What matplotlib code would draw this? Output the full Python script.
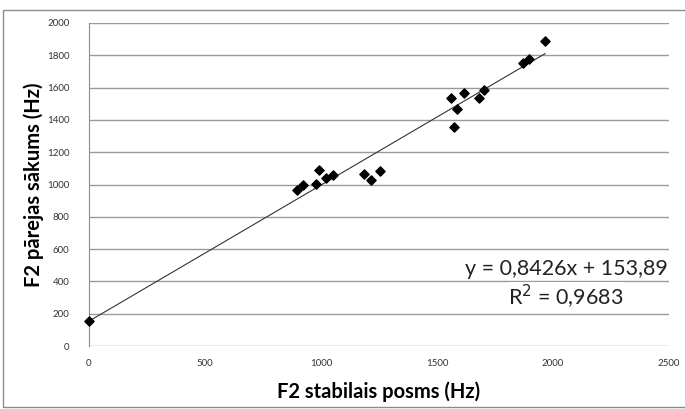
import numpy as np
import matplotlib.pyplot as plt
from matplotlib.patches import Rectangle

plt.rcParams['font.family'] = ['Lato', 'DejaVu Sans']

# F2 measurements (Hz)
f2_stable = [0, 895, 921, 980, 990, 1020, 1052, 1184, 1216, 1255,
             1562, 1572, 1586, 1618, 1680, 1704, 1872, 1895, 1966]
f2_onset = [156, 969, 994, 1004, 1088, 1041, 1056, 1066, 1025, 1086,
            1537, 1356, 1465, 1568, 1537, 1584, 1751, 1774, 1891]

slope = 0.8426
intercept = 153.89
r2 = 0.9683

fig = plt.figure(figsize=(6.85, 4.09), dpi=100)
ax = fig.add_axes([89/685, 1 - 346/409, 580/685, 323/409])

# frame around the whole chart
fig.patches.append(Rectangle((3/685, 2/409), 1.0, 397/409, transform=fig.transFigure,
                             fill=False, edgecolor='#8c8c8c', lw=1.0, clip_on=False))

ax.set_xlim(0, 2500)
ax.set_ylim(0, 2000)
ax.set_xticks(np.arange(0, 2501, 500))
ax.set_yticks(np.arange(0, 2001, 200))
ax.yaxis.grid(True, color='#9a9a9a', lw=1.0)
ax.set_axisbelow(True)
for s in ['top', 'right', 'bottom']:
    ax.spines[s].set_visible(False)
ax.spines['left'].set_color('#8c8c8c')
ax.tick_params(length=0, labelsize=7, colors='#333333')
ax.tick_params(axis='x', pad=9)
ax.tick_params(axis='y', pad=14)

# linear trendline
xs = np.array([0, max(f2_stable)])
ax.plot(xs, slope * xs + intercept, color='#333333', lw=0.8, zorder=2)
ax.scatter(f2_stable, f2_onset, marker='D', s=22, color='black', zorder=3, clip_on=False)

eq = 'y = ' + f'{slope:.4f}'.replace('.', ',') + 'x + ' + f'{intercept:.2f}'.replace('.', ',')
rr = 'R$^2$ = ' + f'{r2:.4f}'.replace('.', ',')
ax.text(2056, 440, eq, ha='center', va='baseline', fontsize=15.5, color='#222222',
        bbox=dict(facecolor='white', edgecolor='none', pad=0.5))
ax.text(2056, 253, rr, ha='center', va='baseline', fontsize=15.5, color='#222222',
        bbox=dict(facecolor='white', edgecolor='none', pad=0.5))

ax.set_xlabel('F2 stabilais posms (Hz)', fontsize=14.5, fontweight='bold', labelpad=10)
ax.set_ylabel('F2 pārejas sākums (Hz)', fontsize=14.5, fontweight='bold', labelpad=2)

fig.savefig('out.png')
